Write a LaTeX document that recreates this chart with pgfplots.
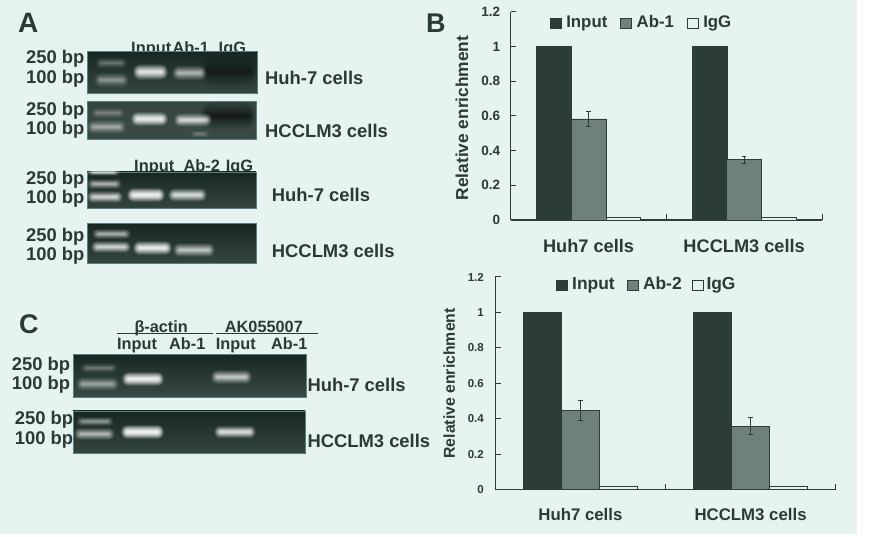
\documentclass[border=0pt]{standalone}
\usepackage{pgfplots}
\pgfplotsset{compat=1.18}
\usepackage{fontspec}
\setmainfont{Liberation Sans}
\definecolor{bgc}{HTML}{E6F3F1}
\definecolor{ink}{HTML}{2A3A36}
\definecolor{dk}{HTML}{2C3C37}
\definecolor{md}{HTML}{6F817B}
\definecolor{gT}{HTML}{172722}
\definecolor{gB}{HTML}{3A4B45}
\definecolor{gL}{HTML}{35463F}
% text: x, baseline (image px), size, text
\newcommand{\lab}[4]{\pgfmathsetmacro{\yy}{536-#2}\node[anchor=base west,inner sep=0pt,text=ink,font=\fontsize{#3}{#3}\selectfont\bfseries] at (#1,\yy) {#4};}
% soft blob: x1,x2,yc,half-height,colour,step opacity
\newcommand{\band}[6]{\pgfmathsetmacro{\yy}{536-#3}%
 \foreach \i in {0,1,2,3,4,5,6,7,8,9,10,11,12,13,14,15}{%
  \pgfmathsetmacro{\ins}{\i/15}%
  \pgfmathsetmacro{\xa}{#1+\ins*6}%
  \pgfmathsetmacro{\xb}{#2-\ins*6}%
  \pgfmathsetmacro{\hh}{#4*0.78*(1-\ins)^1.15+0.9}%
  \pgfmathsetmacro{\rr}{0.9*\hh}%
  \pgfmathsetmacro{\ya}{\yy-\hh}%
  \pgfmathsetmacro{\yb}{\yy+\hh}%
  \pgfmathsetmacro{\op}{#6*(0.5+\ins)*0.5}%
  \fill[#5,fill opacity=\op,rounded corners=\rr pt] (\xa,\ya) rectangle (\xb,\yb);}}
\newcommand{\gel}[6]{\pgfmathsetmacro{\ya}{536-#4}\pgfmathsetmacro{\yb}{536-#3}%
 \shade[top color=#5,bottom color=#6] (#1,\ya) rectangle (#2,\yb);
 \draw[gray!70!teal,line width=0.5pt] (#1,\ya) rectangle (#2,\yb);}
\pgfplotsset{
 chart/.style={
  scale only axis, anchor=south west,
  axis lines*=left, axis line style={draw=dk,line width=1.1pt},
  tick style={draw=dk,line width=1pt}, tick align=inside, major tick length=5.5pt,
  xmin=0,xmax=2,ymin=0,ymax=1.2,
  ytick={0,0.2,0.4,0.6,0.8,1,1.2},
  xtick={0,1,2},xticklabels={,,},
  extra x ticks={0.5,1.5},extra x tick labels={Huh7 cells,HCCLM3 cells},
  extra x tick style={major tick length=0pt},
  /pgf/number format/assume math mode=true,
  clip=false,
  legend columns=3,
  legend cell align=left,
  legend style={draw=none,fill=none,inner sep=0pt,anchor=west,text=ink,
    nodes={text height=12pt,text depth=3.5pt,inner sep=0pt}},
  legend image code/.code={\draw[##1,line width=0.8pt] (0pt,-5pt) rectangle (11pt,5.5pt);},
 },
 barI/.style={ybar,draw=dk,fill=dk,line width=0.6pt},
 barA/.style={ybar,draw=dk,fill=md,line width=0.8pt,
   error bars/.cd,y dir=both,y explicit,error bar style={draw=dk,line width=0.9pt},error mark options={rotate=90,mark size=2.2pt,draw=dk,line width=0.8pt}},
 barG/.style={ybar,draw=dk,fill=bgc,line width=0.7pt},
}
\begin{document}
\begin{tikzpicture}[x=1pt,y=1pt]
\clip (0,0) rectangle (876,536);
\fill[white] (0,0) rectangle (876,536);
\fill[bgc] (0,2) rectangle (857,536);

% ---- panel letters
\lab{18}{33}{28}{A}
\lab{426}{33}{27}{B}
\lab{19}{334}{27}{C}

% ---- panel A labels above gels (the gels cover their feet)
\lab{131}{53.5}{16.4}{Input}\lab{172.3}{53.5}{16.4}{Ab-1}\lab{218.5}{53.5}{16.4}{IgG}
\lab{134}{172}{16.4}{Input}\lab{183.3}{172}{16.4}{Ab-2}\lab{225.7}{172}{16.4}{IgG}

% ---- gel A1
\gel{87}{257.5}{51.5}{93}{gT}{gL}
\band{200}{257}{72}{22}{black}{0.05}
\band{95}{128}{63}{6.5}{white}{0.05}
\band{94}{129}{80}{8.5}{white}{0.075}
\band{133}{168}{72}{9}{white}{0.23}
\band{172}{207}{73}{8.5}{white}{0.12}
% ---- gel A2
\gel{87}{256}{101.5}{139}{gL}{gB}
\band{200}{256}{116}{18}{black}{0.09}
\band{91}{125}{113}{6}{white}{0.05}
\band{87}{126}{127}{8}{white}{0.09}
\band{131}{168}{119}{8}{white}{0.25}
\band{174}{212}{120}{7.5}{white}{0.17}
\band{190}{210}{134}{3.5}{white}{0.04}
% ---- gel A3
\gel{87}{256}{172}{208.5}{gT}{gL}
\band{87}{120}{172.5}{3}{white}{0.12}
\band{87}{122}{184}{5.5}{white}{0.11}
\band{87}{123}{197}{6.5}{white}{0.17}
\band{127}{165}{195}{8}{white}{0.28}
\band{168}{207}{195}{7.5}{white}{0.19}
% ---- gel A4
\gel{87}{256}{223.5}{263}{gT}{gL}
\band{92}{131}{234}{5.5}{white}{0.11}
\band{91}{131}{247}{6.5}{white}{0.17}
\band{133}{172}{248}{8}{white}{0.25}
\band{173}{215}{250}{8}{white}{0.14}

% ---- panel A side labels
\lab{26}{64}{18.4}{250 bp}\lab{26}{83.3}{18.4}{100 bp}
\lab{26}{115.3}{18.4}{250 bp}\lab{26}{135}{18.4}{100 bp}
\lab{26}{185}{18.4}{250 bp}\lab{26}{204}{18.4}{100 bp}
\lab{26}{241.7}{18.4}{250 bp}\lab{26}{260.7}{18.4}{100 bp}
\lab{265}{84.7}{18.4}{Huh-7 cells}
\lab{265}{138}{18.4}{HCCLM3 cells}
\lab{271.7}{201.3}{18.4}{Huh-7 cells}
\lab{271.7}{257.7}{18.4}{HCCLM3 cells}

% ---- panel C
\lab{134.3}{332.5}{16.3}{β-actin}\lab{224.7}{332.5}{16.3}{AK055007}
\draw[ink,line width=0.9pt] (116.5,202.7) -- (212.5,202.7);
\draw[ink,line width=0.9pt] (215.5,202.7) -- (317.5,202.7);
\lab{117}{350}{16.3}{Input}\lab{169}{350}{16.3}{Ab-1}\lab{215.7}{350}{16.3}{Input}\lab{271}{350}{16.3}{Ab-1}
\lab{11.7}{370.3}{18.4}{250 bp}\lab{11.7}{390}{18.4}{100 bp}
\lab{14.7}{424.7}{18.4}{250 bp}\lab{14.7}{444}{18.4}{100 bp}
\gel{73}{306}{354.3}{397.7}{gT}{gB}
\band{80}{118}{368}{5.5}{white}{0.05}
\band{76}{119}{384}{8}{white}{0.09}
\band{122}{164}{379}{8}{white}{0.27}
\band{211}{252}{377}{8}{white}{0.15}
\gel{73}{305}{411}{453}{gT}{gL}
\band{76}{114}{421.5}{5}{white}{0.08}
\band{74}{115}{434}{7}{white}{0.12}
\band{121}{164}{432}{8}{white}{0.3}
\band{214}{256}{432}{7}{white}{0.2}
\lab{307.3}{391.7}{18.4}{Huh-7 cells}
\lab{307.3}{447.3}{18.4}{HCCLM3 cells}

% ---- chart 1
\begin{axis}[chart,at={(510.7pt,316pt)},width=311.3pt,height=208pt,
  tick label style={font=\fontsize{13.5}{13.5}\selectfont\bfseries,text=ink},
  yticklabel style={xshift=-7pt},
  xticklabel style={font=\fontsize{18.2}{18.2}\selectfont\bfseries,yshift=-16pt},
  ylabel={Relative enrichment},
  every axis y label/.style={at={(axis description cs:-0.157,0.49)},rotate=90,anchor=center,text=ink,font=\fontsize{17.3}{17.3}\selectfont\bfseries},
  legend style={at={(axis description cs:0.124,0.945)},font=\fontsize{16.8}{16.8}\selectfont\bfseries,
    /tikz/column 1/.style={column sep=5pt},/tikz/column 2/.style={column sep=13pt},
    /tikz/column 3/.style={column sep=4.5pt},/tikz/column 4/.style={column sep=13pt},
    /tikz/column 5/.style={column sep=4.5pt}},
]
\addplot[bar width=34.7pt,bar shift=-34.7pt,barI] coordinates {(0.5,1) (1.5,1)};
\addlegendentry{Input}
\addplot[bar width=35pt,bar shift=0pt,barA] table[y error index=2] {
x y e
0.5 0.583 0.044
1.5 0.348 0.021
};
\addlegendentry{Ab-1}
\addplot[bar width=34.7pt,bar shift=34.7pt,barG] coordinates {(0.5,0.015) (1.5,0.015)};
\addlegendentry{IgG}
\end{axis}

% ---- chart 2
\begin{axis}[chart,at={(495.3pt,46.3pt)},width=340.4pt,height=212.7pt,
  tick label style={font=\fontsize{11.5}{11.5}\selectfont\bfseries,text=ink},
  yticklabel style={xshift=-8pt},
  xticklabel style={font=\fontsize{16.8}{16.8}\selectfont\bfseries,yshift=-15pt},
  ylabel={Relative enrichment},
  every axis y label/.style={at={(axis description cs:-0.135,0.5)},rotate=90,anchor=center,text=ink,font=\fontsize{15.8}{15.8}\selectfont\bfseries},
  legend style={at={(axis description cs:0.179,0.96)},font=\fontsize{17.4}{17.4}\selectfont\bfseries,
    /tikz/column 1/.style={column sep=4pt},/tikz/column 2/.style={column sep=12pt},
    /tikz/column 3/.style={column sep=4.5pt},/tikz/column 4/.style={column sep=10pt},
    /tikz/column 5/.style={column sep=3pt}},
]
\addplot[bar width=38pt,bar shift=-38pt,barI] coordinates {(0.5,1) (1.5,1)};
\addlegendentry{Input}
\addplot[bar width=38pt,bar shift=0pt,barA] table[y error index=2] {
x y e
0.5 0.448 0.056
1.5 0.358 0.048
};
\addlegendentry{Ab-2}
\addplot[bar width=37.7pt,bar shift=38pt,barG] coordinates {(0.5,0.018) (1.5,0.018)};
\addlegendentry{IgG}
\end{axis}
\end{tikzpicture}
\end{document}
